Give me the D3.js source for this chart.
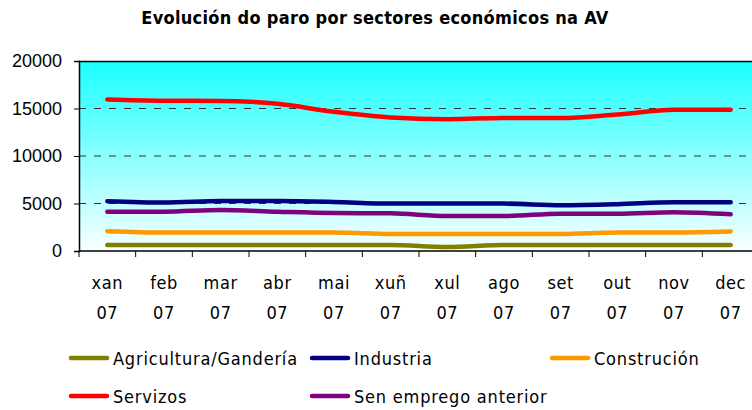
<!DOCTYPE html>
<html>
<head>
<meta charset="utf-8">
<script src="https://cdn.jsdelivr.net/npm/d3@7"></script>
<style>
  body { margin: 0; background: #fff; }
  svg { display: block; font-family: "DejaVu Sans Condensed", "DejaVu Sans", sans-serif; }
</style>
</head>
<body>
<svg id="chart" width="752" height="410"></svg>
<script>
const months = ["xan", "feb", "mar", "abr", "mai", "xuñ", "xul", "ago", "set", "out", "nov", "dec"];
const year = "07";
const yTicks = [0, 5000, 10000, 15000, 20000];

const agricultura = [640, 640, 640, 640, 640, 640, 430, 640, 640, 640, 640, 640];
const industria = [5240, 5100, 5270, 5270, 5170, 4990, 4990, 4990, 4820, 4930, 5140, 5140];
const construcion = [2090, 1950, 1950, 1950, 1950, 1800, 1790, 1790, 1790, 1950, 1950, 2050];
const servizos = [15950, 15820, 15800, 15500, 14650, 14060, 13880, 14000, 14000, 14370, 14860, 14860];
const senEmprego = [4140, 4140, 4320, 4140, 4000, 3970, 3680, 3680, 3930, 3930, 4080, 3860];

const series = [
  { name: "Agricultura/Gandería", values: agricultura, color: "#808000" },
  { name: "Industria", values: industria, color: "#000080" },
  { name: "Construción", values: construcion, color: "#FF9900" },
  { name: "Servizos", values: servizos, color: "#FF0000" },
  { name: "Sen emprego anterior", values: senEmprego, color: "#800080" }
];

const svg = d3.select("#chart");
const marginLeft = 79, marginTop = 61, plotW = 680, plotH = 190;

// title
svg.append("text")
  .attr("x", 375).attr("y", 24)
  .attr("text-anchor", "middle")
  .style("font-size", "18px").style("font-weight", "bold")
  .style("letter-spacing", "0.3px")
  .text("Evolución do paro por sectores económicos na AV");

const x = d3.scaleBand().domain(months).range([0, plotW]);
const y = d3.scaleLinear().domain([0, 20000]).range([plotH, 0]);

const defs = svg.append("defs");
const grad = defs.append("linearGradient").attr("id", "bg")
  .attr("x1", 0).attr("y1", 0).attr("x2", 0).attr("y2", 1);
grad.append("stop").attr("offset", "0%").attr("stop-color", "#1AFFFF");
grad.append("stop").attr("offset", "100%").attr("stop-color", "#FAFFFF");

const g = svg.append("g").attr("transform", "translate(" + marginLeft + "," + marginTop + ")");

g.append("rect")
  .attr("width", plotW).attr("height", plotH)
  .attr("fill", "url(#bg)");

// dashed grid lines
g.selectAll(".grid")
  .data(yTicks.filter(d => d > 0 && d < 20000))
  .enter()
  .append("line")
  .attr("x1", 0).attr("x2", plotW)
  .attr("y1", d => y(d)).attr("y2", d => y(d))
  .attr("stroke", "#333").attr("stroke-width", 1)
  .attr("stroke-dasharray", "7,8");

// top border
g.append("line")
  .attr("x1", 0).attr("x2", plotW).attr("y1", 0.5).attr("y2", 0.5)
  .attr("stroke", "#000").attr("stroke-width", 1.5);

// lines
const line = d3.line()
  .x((d, i) => x(months[i]) + x.bandwidth() / 2)
  .y(d => y(d))
  .curve(d3.curveMonotoneX);

g.selectAll(".series")
  .data(series)
  .enter()
  .append("path")
  .attr("d", d => line(d.values))
  .attr("fill", "none")
  .attr("stroke", d => d.color)
  .attr("stroke-width", 4.5)
  .attr("stroke-linecap", "round")
  .attr("stroke-linejoin", "round");

// y axis
const yAxis = g.append("g")
  .call(d3.axisLeft(y).tickValues(yTicks).tickSize(5).tickPadding(12).tickFormat(d3.format("d")));
yAxis.select(".domain").attr("stroke", "#000").attr("stroke-width", 1.5);
yAxis.selectAll("text").style("font-size", "18px").attr("fill", "#000")
  .style("font-family", "'Liberation Sans', Arial, sans-serif");

// x axis with tick marks between categories
const xAxis = g.append("g").attr("transform", "translate(0," + plotH + ")");
xAxis.append("line")
  .attr("x1", 0).attr("x2", plotW).attr("stroke", "#000").attr("stroke-width", 1.5);
xAxis.selectAll(".tick")
  .data(months)
  .enter()
  .append("line")
  .attr("x1", d => x(d)).attr("x2", d => x(d))
  .attr("y1", 0).attr("y2", 6)
  .attr("stroke", "#000");
const labels = xAxis.selectAll(".lbl")
  .data(months)
  .enter()
  .append("text")
  .attr("text-anchor", "middle")
  .style("font-size", "18px")
  .style("letter-spacing", "0.6px");
labels.append("tspan")
  .attr("x", d => x(d) + x.bandwidth() / 2).attr("y", 38)
  .text(d => d);
labels.append("tspan")
  .attr("x", d => x(d) + x.bandwidth() / 2).attr("y", 68)
  .text(year);

// legend
const legendPos = [
  { x: 70, y: 358 }, { x: 311, y: 358 }, { x: 551, y: 358 },
  { x: 70, y: 396 }, { x: 311, y: 396 }
];
const legend = svg.selectAll(".legend")
  .data(series)
  .enter()
  .append("g")
  .attr("transform", (d, i) => "translate(" + legendPos[i].x + "," + legendPos[i].y + ")");
legend.append("line")
  .attr("x1", 1).attr("x2", 37).attr("y1", 0).attr("y2", 0)
  .attr("stroke", d => d.color).attr("stroke-width", 4.5)
  .attr("stroke-linecap", "round");
legend.append("text")
  .attr("x", 43).attr("y", 6.5)
  .style("font-size", "18px")
  .style("letter-spacing", "0.8px")
  .text(d => d.name);
</script>
</body>
</html>
